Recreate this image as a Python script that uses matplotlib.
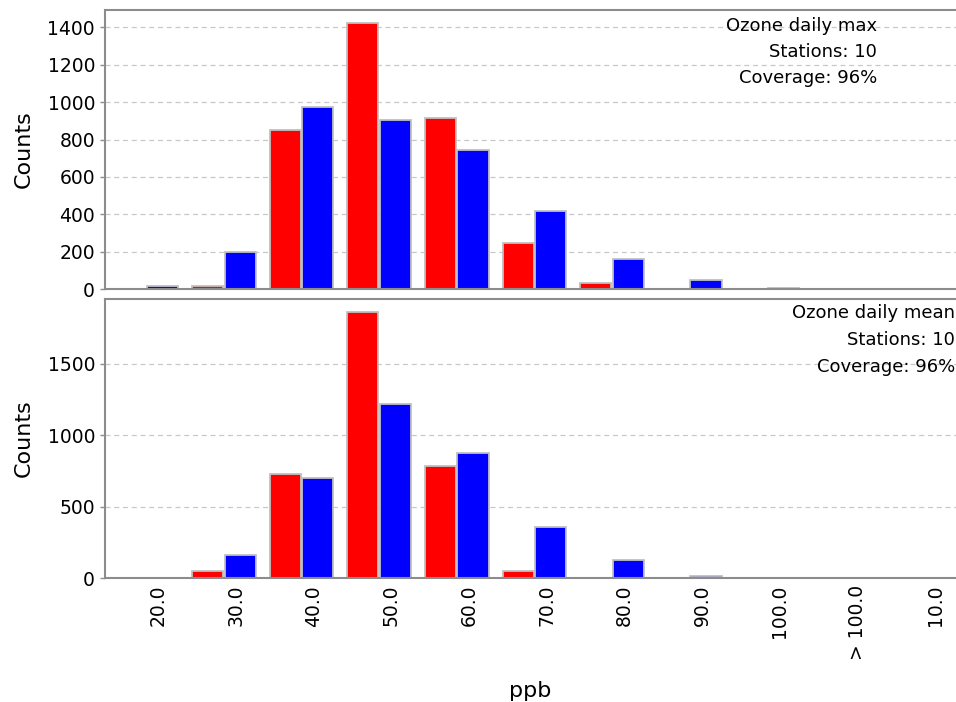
"""ozone histogram panels"""
import numpy as np
import matplotlib.pyplot as plt

categories = ["20.0", "30.0", "40.0", "50.0", "60.0", "70.0", "80.0", "90.0", "100.0", "> 100.0", "10.0"]

max_red = [0, 15, 849, 1422, 916, 248, 32, 2, 0, 0, 0]
max_blue = [15, 200, 975, 907, 746, 418, 163, 48, 5, 0, 0]

mean_red = [0, 47, 727, 1858, 785, 49, 2, 0, 0, 0, 0]
mean_blue = [3, 159, 701, 1218, 877, 360, 124, 14, 0, 0, 0]

max_info = ["Ozone daily max", "Stations: 10", "Coverage: 96%"]
mean_info = ["Ozone daily mean", "Stations: 10", "Coverage: 96%"]

EDGE = "#c0c0c0"
SPINE = "#8c8c8c"
GRID = "#c8c8c8"


def draw_panel(ax, red, blue, yticks, info, info_x, info_y):
    """grouped red/blue bars with info text"""
    x = np.arange(len(categories))
    ax.bar(x - 0.21, red, 0.40, color="#ff0000", edgecolor=EDGE, linewidth=1.3, zorder=2)
    ax.bar(x + 0.21, blue, 0.40, color="#0000ff", edgecolor=EDGE, linewidth=1.3, zorder=2)
    ax.set_xlim(-0.53, 10.43)
    ax.set_ylim(0, max(max(red), max(blue)) * 1.05)
    ax.set_yticks(yticks)
    ax.yaxis.grid(True, linestyle=(0, (4, 3)), color=GRID, linewidth=0.9, zorder=0)
    ax.set_axisbelow(True)
    ax.spines["right"].set_visible(False)
    for side in ("left", "top", "bottom"):
        ax.spines[side].set_color(SPINE)
        ax.spines[side].set_linewidth(1.5)
        ax.spines[side].set_zorder(3)
    ax.tick_params(axis="y", colors=SPINE, labelcolor="black", length=3.6, width=1.0, labelsize=13.5)
    ax.tick_params(axis="x", length=0)
    ax.set_ylabel("Counts", fontsize=16, labelpad=10)
    for line, yy in zip(info, info_y):
        ax.text(info_x, yy, line, transform=ax.transAxes, ha="right", va="center", fontsize=13)
    return x


fig = plt.figure(figsize=(9.56, 7.02), dpi=100)
ax_top = fig.add_axes([0.1098, 0.5883, 0.8902, 0.3974])
ax_bot = fig.add_axes([0.1098, 0.1766, 0.8902, 0.3974])

draw_panel(ax_top, max_red, max_blue, range(0, 1401, 200), max_info, 0.907, [0.943, 0.849, 0.756])
xpos = draw_panel(ax_bot, mean_red, mean_blue, [0, 500, 1000, 1500], mean_info, 0.999, [0.950, 0.853, 0.756])

ax_top.set_xticks([])
ax_bot.set_xticks(xpos + 0.16)
ax_bot.set_xticklabels(categories, rotation=90, fontsize=13.5, va="top")
ax_bot.tick_params(axis="x", pad=5)
ax_bot.set_xlabel("ppb", fontsize=16, labelpad=15)

fig.align_ylabels([ax_top, ax_bot])
fig.savefig("out.png", dpi=100)
plt.close(fig)
